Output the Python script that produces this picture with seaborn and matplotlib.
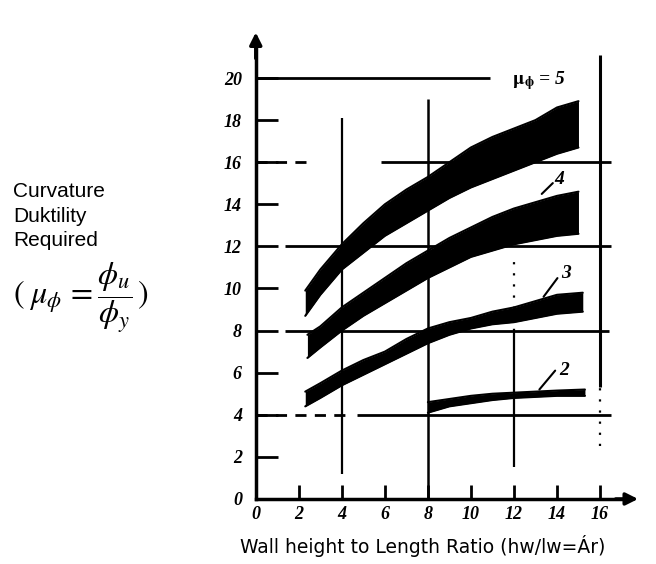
import numpy as np
import pandas as pd
import matplotlib
matplotlib.use("Agg")
import matplotlib.pyplot as plt
import seaborn as sns

# ---- data (band lower / upper edges) ----
x5 = [2.3, 3, 4, 5, 6, 7, 8, 9, 10, 11, 12, 13, 14, 15]
lo5 = [8.7, 9.7, 10.9, 11.7, 12.5, 13.1, 13.7, 14.3, 14.8, 15.2, 15.6, 16.0, 16.4, 16.7]
hi5 = [9.9, 10.9, 12.1, 13.1, 14.0, 14.7, 15.3, 16.0, 16.7, 17.2, 17.6, 18.0, 18.6, 18.9]

x4 = [2.4, 3, 4, 5, 6, 7, 8, 9, 10, 11, 12, 13, 14, 15]
lo4 = [6.7, 7.2, 8.0, 8.7, 9.3, 9.9, 10.5, 11.0, 11.5, 11.8, 12.1, 12.3, 12.5, 12.6]
hi4 = [7.8, 8.2, 9.1, 9.8, 10.5, 11.2, 11.8, 12.4, 12.9, 13.4, 13.8, 14.1, 14.4, 14.6]

x3 = [2.3, 3, 4, 5, 6, 7, 8, 9, 10, 11, 12, 13, 14, 15.2]
lo3 = [4.4, 4.8, 5.4, 5.9, 6.4, 6.9, 7.4, 7.8, 8.1, 8.3, 8.4, 8.6, 8.8, 8.9]
hi3 = [5.1, 5.5, 6.1, 6.6, 7.0, 7.6, 8.1, 8.4, 8.6, 8.9, 9.1, 9.4, 9.7, 9.8]

x2 = [8, 9, 10, 11, 12, 13, 14, 15.3]
lo2 = [4.1, 4.4, 4.55, 4.7, 4.8, 4.85, 4.9, 4.9]
hi2 = [4.6, 4.75, 4.9, 5.0, 5.05, 5.1, 5.15, 5.2]

mu_labels = ["5", "4", "3", "2"]
x_ticks = [0, 2, 4, 6, 8, 10, 12, 14, 16]
y_ticks = [0, 2, 4, 6, 8, 10, 12, 14, 16, 18, 20]

bands = [(x5, lo5, hi5), (x4, lo4, hi4), (x3, lo3, hi3), (x2, lo2, hi2)]
rows = []
for lab, (xs, lo, hi) in zip(mu_labels, bands):
    for a, b, c in zip(xs, lo, hi):
        rows.append({"mu": lab, "x": a, "lower": b, "upper": c})
df = pd.DataFrame(rows)

sns.set_theme(style="white")
plt.rcParams["font.family"] = ["DejaVu Sans"]
plt.rcParams["mathtext.fontset"] = "stix"

fig = plt.figure(figsize=(6.56, 5.64), dpi=100)
ax = fig.add_axes([0.3735, 0.1041, 0.6067, 0.8434])
ax.set_xlim(-0.5, 18)
ax.set_ylim(-0.3, 22.3)

# ---- reference grid lines (drawn like the scanned figure) ----
lw_g = 2.0
ax.hlines(20, 0, 10.9, color="black", lw=lw_g)
ax.hlines(16, 0, 2.5, color="black", lw=lw_g, linestyles=(0, (4, 3)))
ax.hlines(16, 5.8, 16.5, color="black", lw=lw_g)
ax.hlines(12, 1.35, 16.5, color="black", lw=lw_g)
ax.hlines(8, 1.35, 16.4, color="black", lw=lw_g)
ax.hlines(4, 0, 4.5, color="black", lw=lw_g, linestyles=(0, (4, 3)))
ax.hlines(4, 4.7, 16.5, color="black", lw=lw_g)
ax.vlines(4, 1.2, 18.1, color="black", lw=1.6)
ax.vlines(8, 0, 19.0, color="black", lw=1.8)
ax.vlines(12, 1.5, 8, color="black", lw=1.6)
ax.vlines(12, 8, 11.5, color="black", lw=1.6, linestyles=(0, (1, 4)))
ax.vlines(16, 5.3, 21.1, color="black", lw=2.2)
ax.vlines(16, 2.5, 5.3, color="black", lw=1.6, linestyles=(0, (1, 4)))

# ---- data bands ----
palette = {m: "black" for m in mu_labels}
for lab in mu_labels:
    d = df[df["mu"] == lab]
    ax.fill_between(d["x"], d["lower"], d["upper"], color="black", lw=0)
sns.lineplot(data=df, x="x", y="lower", hue="mu", palette=palette,
             lw=1.5, legend=False, ax=ax)
sns.lineplot(data=df, x="x", y="upper", hue="mu", palette=palette,
             lw=1.5, legend=False, ax=ax)

# ---- axes: spines through the origin, arrows ----
for s in ["top", "right"]:
    ax.spines[s].set_visible(False)
ax.spines["left"].set_position(("data", 0))
ax.spines["bottom"].set_position(("data", 0))
ax.spines["left"].set_linewidth(2.5)
ax.spines["bottom"].set_linewidth(2.5)
ax.spines["left"].set_color("black")
ax.spines["bottom"].set_color("black")
ax.spines["left"].set_bounds(0, 21.5)
ax.spines["bottom"].set_bounds(0, 17.2)
ax.annotate("", xy=(0, 22.3), xytext=(0, 20.8),
            arrowprops=dict(arrowstyle="-|>", color="black", lw=2.5,
                            mutation_scale=18), annotation_clip=False)
ax.annotate("", xy=(17.9, 0), xytext=(16.6, 0),
            arrowprops=dict(arrowstyle="-|>", color="black", lw=2.5,
                            mutation_scale=18), annotation_clip=False)

ax.set_xticks(x_ticks)
ax.set_yticks(y_ticks)
tick_font = dict(fontfamily="Liberation Serif", fontweight="bold",
                 fontstyle="italic", fontsize=13)
ax.set_xticklabels([str(v) for v in x_ticks], **tick_font)
ax.set_yticklabels([str(v) for v in y_ticks], **tick_font)
ax.tick_params(axis="x", bottom=True, direction="in", length=10, width=2,
               pad=5, colors="black")
ax.tick_params(axis="y", left=True, direction="in", length=16, width=2,
               pad=10, colors="black")
ax.set_xlabel("")
ax.set_ylabel("")
ax.grid(False)

# ---- curve labels with leader lines ----
lab_kw = dict(fontfamily="Liberation Serif", fontweight="bold",
              fontstyle="italic", fontsize=14, color="black")
ax.text(11.9, 19.9, r"$\mathbf{\mu_\phi}$ = 5", va="center", ha="left", **lab_kw)
ax.text(13.9, 15.2, "4", va="center", ha="left", **lab_kw)
ax.annotate("", xy=(13.2, 14.4), xytext=(13.9, 15.1),
            arrowprops=dict(arrowstyle="-", color="black", lw=1.5))
ax.text(14.2, 10.7, "3", va="center", ha="left", **lab_kw)
ax.annotate("", xy=(13.3, 9.5), xytext=(14.1, 10.6),
            arrowprops=dict(arrowstyle="-", color="black", lw=1.5))
ax.text(14.1, 6.1, "2", va="center", ha="left", **lab_kw)
ax.annotate("", xy=(13.1, 5.1), xytext=(14.0, 6.2),
            arrowprops=dict(arrowstyle="-", color="black", lw=1.5))

# ---- outer texts ----
tkw = dict(fontfamily="Liberation Sans", fontsize=15, color="black",
           va="baseline", ha="left")
fig.text(13 / 656, 1 - 197 / 564, "Curvature", **tkw)
fig.text(13 / 656, 1 - 222 / 564, "Duktility", **tkw)
fig.text(13 / 656, 1 - 246 / 564, "Required", **tkw)
fig.text(13 / 656, 1 - 298 / 564,
         r"$(\;\mu_{\phi}\,=\dfrac{\phi_u}{\phi_y}\,)$",
         fontsize=23, color="black", va="center", ha="left")
fig.text(423 / 656, 1 - 553 / 564, "Wall height to Length Ratio (hw/lw=Ár)",
         fontfamily="DejaVu Sans", fontsize=13.5, color="black",
         ha="center", va="baseline")

fig.savefig("out.png", dpi=100, facecolor="white")
